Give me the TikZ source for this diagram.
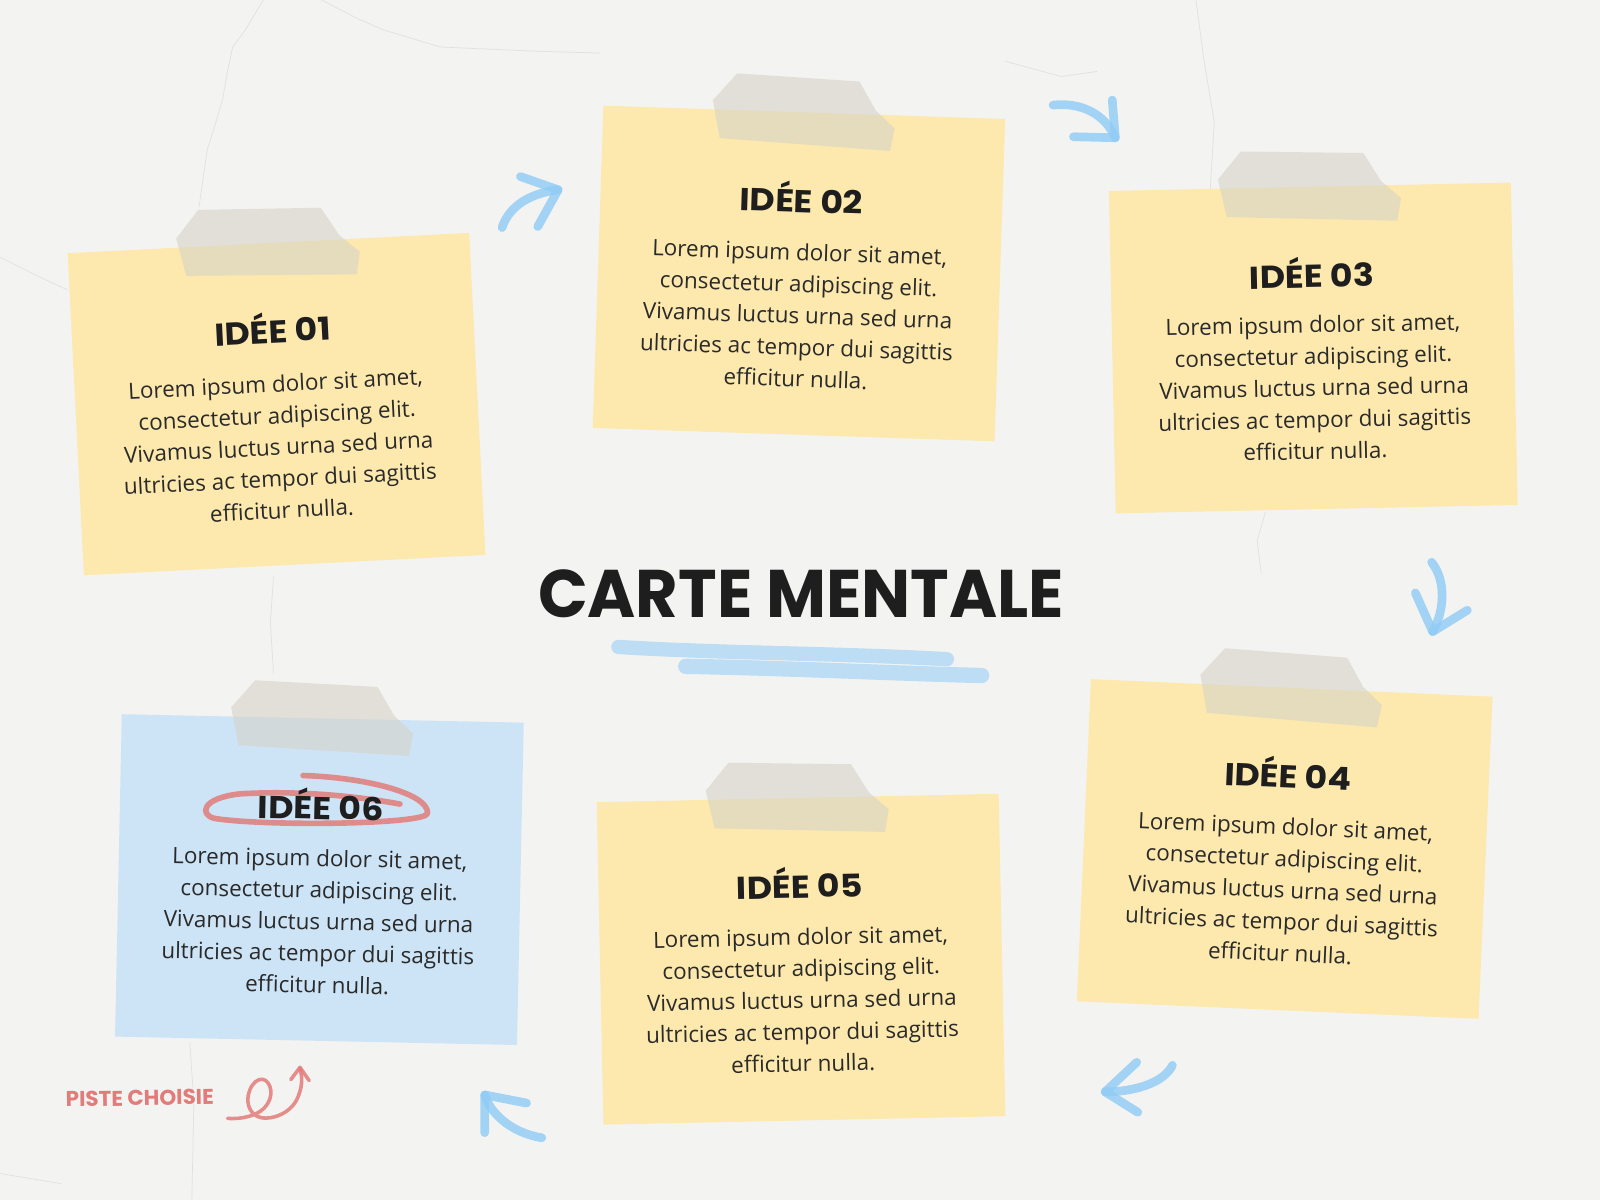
\documentclass[tikz,border=0pt]{standalone}
\usepackage{fontspec}
\setmainfont{Open Sans}
\newfontfamily\brush{Poppins}
\definecolor{bg}{HTML}{F3F3F1}
\definecolor{noteyellow}{HTML}{FDE9AD}
\definecolor{noteblue}{HTML}{CDE4F6}
\definecolor{tapecol}{HTML}{D6D3C8}
\definecolor{arrowblue}{HTML}{8FCBF5}
\definecolor{penred}{HTML}{E27C7A}
\definecolor{ink}{HTML}{1E1E1E}
\definecolor{bodyink}{HTML}{2A2A2A}
\definecolor{crack}{HTML}{E1E1DF}
\tikzset{
  notebox/.style={minimum width=394pt, minimum height=316pt, inner sep=0pt, draw=none},
  tapestyle/.style={fill=tapecol, fill opacity=0.6, draw=none},
  heading/.style={font=\brush\bfseries\fontsize{31}{36}\selectfont, text=ink, inner sep=0pt, xscale=1.1},
  bodytext/.style={font=\fontsize{22}{31}\selectfont, align=center, text=bodyink, inner sep=0pt},
  bluestroke/.style={draw=arrowblue, line width=8.5pt, line cap=round, line join=round, draw opacity=0.8},
  underline/.style={draw=arrowblue, line cap=round, draw opacity=0.55},
  crackline/.style={draw=crack, line width=0.7pt},
  redpen/.style={draw=penred, line cap=round, line join=round, draw opacity=0.85},
}
\newcommand{\bodylines}{Lorem ipsum dolor sit amet,\\consectetur adipiscing elit.\\Vivamus luctus urna sed urna\\ultricies ac tempor dui sagittis\\efficitur nulla.}
\newcommand{\tapeshape}{%
  \fill[tapestyle] (-67,-194) -- (53,-190) -- (70,-162) -- (89,-145) -- (85,-123) -- (-82,-130) -- (-90,-167) -- cycle;}
\begin{document}
\begin{tikzpicture}[x=1pt,y=-1pt]
\fill[bg] (0,0) rectangle (1568,1176);
\useasboundingbox (0,0) rectangle (1568,1176);
% faint cracks
\draw[crackline] (258,0) -- (240,30) -- (228,46) -- (222,75) -- (218,98) -- (210,125) -- (203,147) -- (195,203);
\draw[crackline] (315,0) -- (350,18) -- (375,29) -- (431,46) -- (520,50) -- (588,52);
\draw[crackline] (0,252) -- (40,272) -- (66,284);
\draw[crackline] (268,565) -- (265,610) -- (268,660);
\draw[crackline] (186,1022) -- (190,1080) -- (188,1176);
\draw[crackline] (1172,0) -- (1180,60) -- (1190,120) -- (1186,186);
\draw[crackline] (1240,502) -- (1232,530) -- (1236,562);
\draw[crackline] (985,60) -- (1040,75) -- (1075,70);
\draw[crackline] (0,1150) -- (60,1160);

% IDEE 01
\begin{scope}[shift={(271,396)}, rotate=2.9, transform shape]
  \node[notebox, fill=noteyellow] (n1) at (0,0) {};
  \tapeshape
  \node[heading] (h1) at (0,-75) {IDÉE 01};
  \node[bodytext] (b1) at (0,42) {\bodylines};
\end{scope}
% IDEE 02
\begin{scope}[shift={(783,268)}, rotate=-1.9, transform shape]
  \node[notebox, fill=noteyellow] (n2) at (0,0) {};
  \tapeshape
  \node[heading] (h2) at (0,-75) {IDÉE 02};
  \node[bodytext] (b2) at (0,41) {\bodylines};
\end{scope}
% IDEE 03
\begin{scope}[shift={(1287,341)}, rotate=1.2, transform shape]
  \node[notebox, fill=noteyellow] (n3) at (0,0) {};
  \tapeshape
  \node[heading] (h3) at (0,-74) {IDÉE 03};
  \node[bodytext] (b3) at (0,39) {\bodylines};
\end{scope}
% IDEE 04
\begin{scope}[shift={(1259,832)}, rotate=-2.5, transform shape]
  \node[notebox, fill=noteyellow] (n4) at (0,0) {};
  \tapeshape
  \node[heading] (h4) at (0,-75) {IDÉE 04};
  \node[bodytext] (b4) at (0,40) {\bodylines};
\end{scope}
% IDEE 05
\begin{scope}[shift={(785,940)}, rotate=1.2, transform shape]
  \node[notebox, fill=noteyellow] (n5) at (0,0) {};
  \tapeshape
  \node[heading] (h5) at (0,-75) {IDÉE 05};
  \node[bodytext] (b5) at (0,40) {\bodylines};
\end{scope}
% IDEE 06
\begin{scope}[shift={(313,862)}, rotate=-1.2, transform shape]
  \node[notebox, fill=noteblue] (n6) at (0,0) {};
  \tapeshape
  \node[bodytext] (b6) at (0,41) {\bodylines};
\end{scope}
% red circle around IDEE 06
\draw[redpen, line width=5.5pt] (297,760) .. controls (360,762) and (420,778) .. (419,797)
   .. controls (418,808) and (260,810) .. (210,802)
   .. controls (195,798) and (198,782) .. (235,778)
   .. controls (300,774) and (360,782) .. (392,788);
\begin{scope}[shift={(313,862)}, rotate=-1.2, transform shape]
  \node[heading] (h6) at (0,-74) {IDÉE 06};
\end{scope}

% title
\node[font=\brush\bfseries\fontsize{66}{70}\selectfont, text=ink, inner sep=0pt, xscale=0.97] (title) at (785,582) {CARTE MENTALE};
\draw[underline, line width=14pt] (606,634) .. controls (700,640) and (820,640) .. (928,646);
\draw[underline, line width=15pt] (672,653) .. controls (780,655) and (880,660) .. (962,662);

% blue arrows
\draw[bluestroke] (492,223) .. controls (498,205) and (515,190) .. (547,186);
\draw[bluestroke] (510,173) -- (547,186) -- (527,222);
\draw[bluestroke] (1032,103) .. controls (1060,100) and (1083,112) .. (1093,135);
\draw[bluestroke] (1052,134) -- (1093,135) -- (1090,98);
\draw[bluestroke] (1403,551) .. controls (1418,570) and (1415,600) .. (1404,619);
\draw[bluestroke] (1387,581) -- (1404,619) -- (1438,598);
\draw[bluestroke] (1149,1044) .. controls (1140,1062) and (1110,1070) .. (1083,1070);
\draw[bluestroke] (1114,1041) -- (1083,1070) -- (1115,1090);
\draw[bluestroke] (531,1115) .. controls (500,1110) and (480,1090) .. (475,1073);
\draw[bluestroke] (475,1110) -- (475,1073) -- (516,1081);

% piste choisie
\node[font=\brush\bfseries\fontsize{21}{24}\selectfont, text=penred, inner sep=0pt, xscale=1.0, rotate=1] (piste) at (137,1076) {PISTE CHOISIE};
\draw[redpen, line width=3.5pt] (223,1096) .. controls (235,1097) and (255,1094) .. (262,1082)
  .. controls (270,1070) and (263,1055) .. (254,1058)
  .. controls (244,1061) and (236,1085) .. (252,1094)
  .. controls (262,1099) and (285,1093) .. (292,1075)
  .. controls (297,1063) and (296,1055) .. (294,1047);
\draw[redpen, line width=3.5pt] (285,1058) -- (294,1046) -- (303,1059);
\end{tikzpicture}
\end{document}
